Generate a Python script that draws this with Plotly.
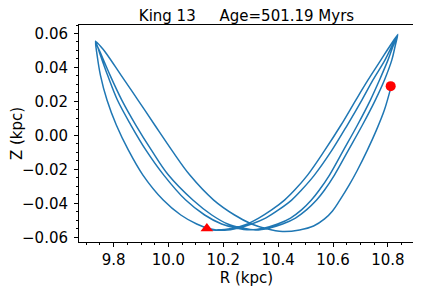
import plotly.graph_objects as go

# Orbit legs (R in kpc, Z in kpc)
leg0_R = [10.132, 10.180, 10.230, 10.278, 10.329, 10.376, 10.423, 10.460, 10.507, 10.570,
          10.629, 10.683, 10.727, 10.774, 10.809, 10.836]
leg0_Z = [-0.0555, -0.0558, -0.0549, -0.0528, -0.0487, -0.0439, -0.0381, -0.0322, -0.0234, -0.0087,
          0.0061, 0.0208, 0.0325, 0.0443, 0.0531, 0.0594]

leg1_R = [10.816, 10.789, 10.745, 10.705, 10.652, 10.596, 10.532, 10.485, 10.449, 10.401,
          10.354, 10.303, 10.256, 10.205, 10.150, 10.103, 10.045, 9.981, 9.907, 9.854,
          9.810, 9.776, 9.752, 9.740, 9.734]
leg1_Z = [0.0531, 0.0443, 0.0325, 0.0208, 0.0061, -0.0087, -0.0234, -0.0322, -0.0381, -0.0439,
          -0.0487, -0.0522, -0.0545, -0.0559, -0.0550, -0.0522, -0.0469, -0.0381, -0.0234, -0.0087,
          0.0061, 0.0208, 0.0355, 0.0472, 0.0555]

leg2_R = [9.752, 9.778, 9.814, 9.863, 9.918, 9.983, 10.063, 10.132, 10.194, 10.245,
          10.296, 10.350, 10.398, 10.445, 10.485, 10.521, 10.550, 10.587, 10.638, 10.689,
          10.736, 10.769, 10.800, 10.820, 10.836]
leg2_Z = [0.0472, 0.0355, 0.0208, 0.0061, -0.0087, -0.0234, -0.0381, -0.0469, -0.0522, -0.0545,
          -0.0556, -0.0545, -0.0522, -0.0487, -0.0439, -0.0381, -0.0322, -0.0234, -0.0087, 0.0061,
          0.0208, 0.0325, 0.0443, 0.0531, 0.0594]

leg3_R = [10.827, 10.814, 10.787, 10.754, 10.707, 10.656, 10.605, 10.569, 10.540, 10.503,
          10.463, 10.416, 10.369, 10.318, 10.267, 10.216, 10.158, 10.089, 10.000, 9.938,
          9.881, 9.830, 9.787, 9.756, 9.734]
leg3_Z = [0.0531, 0.0443, 0.0325, 0.0208, 0.0061, -0.0087, -0.0234, -0.0322, -0.0381, -0.0439,
          -0.0487, -0.0522, -0.0545, -0.0557, -0.0545, -0.0522, -0.0469, -0.0381, -0.0234, -0.0087,
          0.0061, 0.0208, 0.0355, 0.0472, 0.0555]

leg4_R = [9.758, 9.778, 9.827, 9.889, 9.950, 10.012, 10.078, 10.165, 10.241, 10.303,
          10.354, 10.416, 10.478, 10.529, 10.569, 10.598, 10.623, 10.659, 10.689, 10.725,
          10.758, 10.787, 10.812]
leg4_Z = [0.0514, 0.0472, 0.0355, 0.0208, 0.0061, -0.0087, -0.0234, -0.0381, -0.0469, -0.0522,
          -0.0548, -0.0566, -0.0557, -0.0534, -0.0492, -0.0445, -0.0386, -0.0292, -0.0204, -0.0087,
          0.0031, 0.0149, 0.0290]

now_R, now_Z = [10.81], [0.029]
birth_R, birth_Z = [10.14], [-0.0548]

title_text = "King 13\u00a0\u00a0\u00a0\u00a0\u00a0Age=501.19 Myrs"
x_ticks = [9.8, 10.0, 10.2, 10.4, 10.6, 10.8]
y_ticks = [-0.06, -0.04, -0.02, 0.0, 0.02, 0.04, 0.06]

orbit_R = leg0_R + leg1_R + leg2_R + leg3_R + leg4_R
orbit_Z = leg0_Z + leg1_Z + leg2_Z + leg3_Z + leg4_Z

fig = go.Figure()
fig.add_trace(go.Scatter(x=orbit_R, y=orbit_Z, mode="lines",
                         line=dict(color="#1f77b4", width=1.5, shape="spline", smoothing=1.0),
                         showlegend=False, hoverinfo="skip"))
fig.add_trace(go.Scatter(x=now_R, y=now_Z, mode="markers",
                         marker=dict(color="red", size=10, symbol="circle"), showlegend=False))
fig.add_trace(go.Scatter(x=birth_R, y=birth_Z, mode="markers",
                         marker=dict(color="red", size=11, symbol="triangle-up"), showlegend=False))

font = "DejaVu Sans"
# the page body adds an 8px offset, so the figure is 8px smaller than the window
fig.update_layout(
    width=413, height=282,
    margin=dict(l=71, r=7, t=17, b=48),
    paper_bgcolor="white", plot_bgcolor="white",
    font=dict(family=font, size=15, color="black"),
    title=dict(text=title_text, x=0.5, xref="paper", xanchor="center",
               y=1 - 7.5 / 282, yref="container", yanchor="middle",
               font=dict(family=font, size=15, color="black")),
)
fig.update_xaxes(range=[9.674, 10.895], tickmode="array", tickvals=x_ticks,
                 ticktext=[f"{v:.1f}" for v in x_ticks], automargin=False,
                 ticks="outside", ticklen=4, tickwidth=1, tickcolor="black",
                 showline=True, linecolor="black", linewidth=1, mirror=True,
                 showgrid=False, zeroline=False,
                 minor=dict(dtick=0.05, tick0=0, ticks="outside", ticklen=2, tickcolor="black", showgrid=False),
                 title=dict(text="R (kpc)", standoff=3, font=dict(family=font, size=15)))
fig.update_yaxes(range=[-0.0628, 0.0650], tickmode="array", tickvals=y_ticks,
                 ticktext=[f"{v:.2f}".replace("-", "\u2212") for v in y_ticks], automargin=False,
                 ticks="outside", ticklen=4, tickwidth=1, tickcolor="black", ticklabelstandoff=3,
                 showline=True, linecolor="black", linewidth=1, mirror=True,
                 showgrid=False, zeroline=False,
                 minor=dict(dtick=0.005, tick0=0, ticks="outside", ticklen=2, tickcolor="black", showgrid=False),
                 title=dict(text="Z (kpc)", standoff=12, font=dict(family=font, size=15)))

fig.write_html("out.html")
